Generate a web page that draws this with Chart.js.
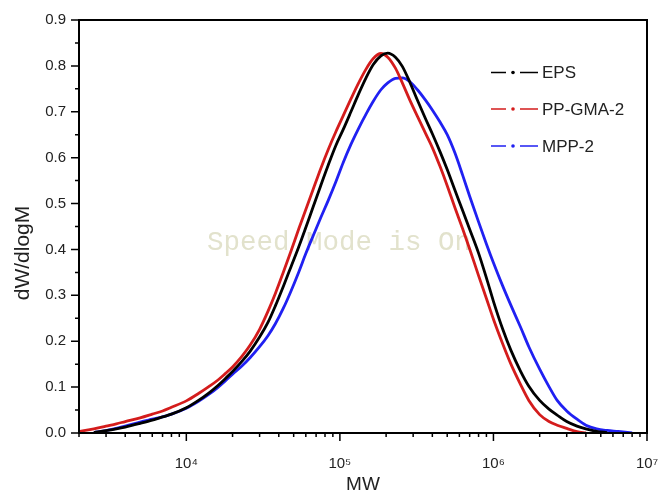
<!DOCTYPE html>
<html>
<head>
<meta charset="utf-8">
<script src="https://cdn.jsdelivr.net/npm/chart.js@4.4.0/dist/chart.umd.min.js"></script>
<style>
  html, body { margin: 0; padding: 0; background: #fff; }
</style>
</head>
<body>
<canvas id="mwChart" width="659" height="496"></canvas>
<script>
// GPC molecular weight distribution on a common MW grid
const mwGrid = [2000, 2500, 3000, 3500, 4000, 5000, 6000, 7000, 8000, 10000,
    12000, 14000, 16000, 18000, 20000, 23000, 26000, 30000, 34000, 38000,
    43000, 48000, 54000, 60000, 67000, 75000, 84000, 94000, 105000, 118000,
    132000, 148000, 165000, 185000, 205000, 230000, 255000, 285000, 320000, 360000,
    400000, 450000, 500000, 560000, 630000, 700000, 800000, 900000, 1000000, 1150000,
    1300000, 1500000, 1700000, 2000000, 2300000, 2600000, 3000000, 3500000, 4000000, 4700000,
    5500000, 6500000, 8000000];

const epsY = [null, 0.001, 0.005, 0.009, 0.013, 0.021, 0.028, 0.035, 0.041, 0.055,
    0.071, 0.087, 0.103, 0.119, 0.134, 0.156, 0.178, 0.209, 0.241, 0.277,
    0.321, 0.362, 0.406, 0.448, 0.493, 0.539, 0.584, 0.626, 0.661, 0.700,
    0.738, 0.774, 0.803, 0.822, 0.828, 0.819, 0.799, 0.765, 0.725, 0.686,
    0.652, 0.612, 0.574, 0.530, 0.485, 0.444, 0.392, 0.338, 0.287, 0.226,
    0.180, 0.135, 0.102, 0.071, 0.052, 0.039, 0.025, 0.015, 0.009, 0.0035,
    0.001, null, null];

const gmaY = [0.003, 0.009, 0.015, 0.020, 0.025, 0.033, 0.041, 0.048, 0.056, 0.070,
    0.086, 0.101, 0.115, 0.130, 0.144, 0.167, 0.191, 0.226, 0.265, 0.304,
    0.352, 0.396, 0.445, 0.487, 0.531, 0.576, 0.618, 0.656, 0.691, 0.728,
    0.762, 0.793, 0.816, 0.827, 0.819, 0.795, 0.763, 0.726, 0.690, 0.654,
    0.622, 0.580, 0.539, 0.492, 0.445, 0.401, 0.343, 0.293, 0.248, 0.194,
    0.150, 0.106, 0.071, 0.040, 0.025, 0.017, 0.010, 0.003, 0.0, null,
    null, null, null];

const mppY = [null, 0.001, 0.005, 0.010, 0.015, 0.024, 0.030, 0.035, 0.041, 0.054,
    0.069, 0.084, 0.099, 0.114, 0.128, 0.146, 0.164, 0.188, 0.212, 0.238,
    0.273, 0.309, 0.351, 0.391, 0.430, 0.469, 0.507, 0.547, 0.589, 0.629,
    0.663, 0.695, 0.723, 0.748, 0.763, 0.773, 0.774, 0.766, 0.748, 0.726,
    0.704, 0.677, 0.650, 0.611, 0.562, 0.516, 0.460, 0.412, 0.371, 0.320,
    0.278, 0.231, 0.188, 0.139, 0.101, 0.071, 0.048, 0.030, 0.017, 0.009,
    0.0055, 0.0033, 0.0];

const seriesNames = ['EPS', 'PP-GMA-2', 'MPP-2'];
const seriesColors = ['#000000', '#d41c1c', '#2020f2'];

const xTickValues = [1e4, 1e5, 1e6, 1e7];
const xTickLabels = ['10⁴', '10⁵', '10⁶', '10⁷'];
const yTickValues = [0, 0.1, 0.2, 0.3, 0.4, 0.5, 0.6, 0.7, 0.8, 0.9];
const yTickLabels = ['0.0', '0.1', '0.2', '0.3', '0.4', '0.5', '0.6', '0.7', '0.8', '0.9'];

const FONT = "'Liberation Sans', Arial, sans-serif";

function toPoints(xs, ys) {
    return xs.map((x, i) => ({ x: x, y: ys[i] }));
}

// frame, tick marks, watermark, y title and the dash-dot legend
const originStyle = {
    id: 'originStyle',
    beforeDatasetsDraw(chart) {
        const ctx = chart.ctx;
        ctx.save();
        ctx.font = "27.5px 'Liberation Mono', monospace";
        ctx.fillStyle = '#e2e2cc';
        ctx.textBaseline = 'alphabetic';
        ctx.fillText('Speed Mode is On', 207, 250);
        ctx.restore();
    },
    afterDraw(chart) {
        const ctx = chart.ctx;
        const a = chart.chartArea;
        const x = chart.scales.x;
        const y = chart.scales.y;
        ctx.save();
        ctx.strokeStyle = '#000';
        ctx.lineWidth = 2;
        ctx.strokeRect(a.left, a.top, a.right - a.left, a.bottom - a.top);

        ctx.lineWidth = 1.5;
        ctx.beginPath();
        for (let i = 0; i <= 18; i++) {
            const py = y.getPixelForValue(i * 0.05);
            const len = i % 2 === 0 ? 8 : 4;
            ctx.moveTo(a.left - len, py);
            ctx.lineTo(a.left, py);
        }
        for (let e = 3; e <= 7; e++) {
            for (let m = 1; m <= 9; m++) {
                const v = m * Math.pow(10, e);
                if (v < x.min || v > x.max) continue;
                const px = x.getPixelForValue(v);
                const len = m === 1 ? 8 : 4;
                ctx.moveTo(px, a.bottom);
                ctx.lineTo(px, a.bottom + len);
            }
        }
        ctx.stroke();

        // y axis title
        ctx.save();
        ctx.translate(23, 253);
        ctx.rotate(-Math.PI / 2);
        ctx.font = '21px ' + FONT;
        ctx.fillStyle = '#222';
        ctx.textAlign = 'center';
        ctx.textBaseline = 'middle';
        ctx.fillText('dW/dlogM', 0, 0);
        ctx.restore();

        // legend
        const rows = [72.5, 109, 146];
        chart.data.datasets.forEach((ds, i) => {
            const ly = rows[i];
            ctx.strokeStyle = ds.borderColor;
            ctx.fillStyle = ds.borderColor;
            ctx.lineWidth = 1.5;
            ctx.beginPath();
            ctx.moveTo(491, ly); ctx.lineTo(506, ly);
            ctx.moveTo(520, ly); ctx.lineTo(538, ly);
            ctx.stroke();
            ctx.beginPath();
            ctx.arc(513, ly, 1.8, 0, Math.PI * 2);
            ctx.fill();
            ctx.fillStyle = '#222';
            ctx.font = '17px ' + FONT;
            ctx.textBaseline = 'middle';
            ctx.textAlign = 'left';
            ctx.fillText(ds.label, 542, ly + 1);
        });
        ctx.restore();
    }
};

const ctx = document.getElementById('mwChart').getContext('2d');
const mwChart = new Chart(ctx, {
    type: 'line',
    data: {
        datasets: [
            { label: seriesNames[0], data: toPoints(mwGrid, epsY), borderColor: seriesColors[0] },
            { label: seriesNames[1], data: toPoints(mwGrid, gmaY), borderColor: seriesColors[1] },
            { label: seriesNames[2], data: toPoints(mwGrid, mppY), borderColor: seriesColors[2] }
        ]
    },
    options: {
        responsive: false,
        animation: false,
        layout: { padding: { top: 20, right: 12, left: 0, bottom: 0 } },
        elements: {
            line: { borderWidth: 2.8, fill: false, cubicInterpolationMode: 'monotone' },
            point: { radius: 0 }
        },
        plugins: {
            legend: { display: false },
            tooltip: { enabled: false }
        },
        scales: {
            x: {
                type: 'logarithmic',
                min: 2000,
                max: 1e7,
                grid: { display: false, drawTicks: false },
                border: { display: false },
                afterBuildTicks: (scale) => {
                    scale.ticks = xTickValues.map(v => ({ value: v }));
                },
                afterFit: (scale) => {
                    scale.height = 63;
                    scale.paddingLeft = 0;
                    scale.paddingRight = 0;
                },
                ticks: {
                    autoSkip: false,
                    maxRotation: 0,
                    padding: 22,
                    color: '#222',
                    font: { family: FONT, size: 15 },
                    callback: (value) => {
                        const i = xTickValues.indexOf(value);
                        return i >= 0 ? xTickLabels[i] : '';
                    }
                },
                title: {
                    display: true,
                    text: 'MW',
                    color: '#222',
                    font: { family: FONT, size: 19, lineHeight: 1.1 },
                    padding: { top: 0, bottom: 1 }
                }
            },
            y: {
                min: 0,
                max: 0.9,
                grid: { display: false, drawTicks: false },
                border: { display: false },
                afterBuildTicks: (scale) => {
                    scale.ticks = yTickValues.map(v => ({ value: v }));
                },
                afterFit: (scale) => {
                    scale.width = 79;
                    scale.paddingTop = 0;
                    scale.paddingBottom = 0;
                },
                ticks: {
                    padding: 13,
                    color: '#222',
                    font: { family: FONT, size: 15 },
                    callback: (value) => {
                        const i = yTickValues.findIndex(v => Math.abs(v - value) < 1e-9);
                        return i >= 0 ? yTickLabels[i] : '';
                    }
                }
            }
        }
    },
    plugins: [originStyle]
});
</script>
</body>
</html>
